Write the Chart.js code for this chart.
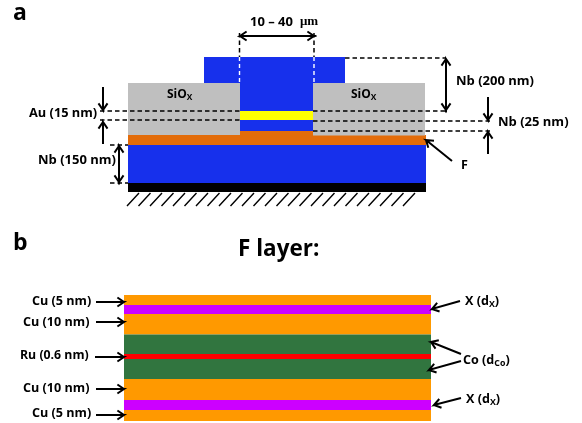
<!DOCTYPE html>
<html><head><meta charset="utf-8">
<style>html,body{margin:0;padding:0;background:#fff}canvas{display:block}</style>
<script src="https://cdn.jsdelivr.net/npm/chart.js@4"></script>
</head><body><canvas id="c" width="582" height="423"></canvas>
<script>
// Layers: [name, left, right, top, bottom] in diagram units
const layerNames  = ["baseNb","substrate","ferro","ferroMid","nbTopWide","nbMid","gold","oxideL","oxideR",
                     "cu1","x1","cu2","co1","ru","co2","cu3","x2","cu4"];
const layerLeft   = [128,128,128,240,204,240,240,128,313, 124,124,124,124,124,124,124,124,124];
const layerRight  = [426,426,426,314,345,314,314,240,425, 431,431,431,431,431,431,431,431,431];
const layerTop    = [145,183,135,131,57,57,111,83,83, 295,305,314,334.5,354,359,379,400,410];
const layerBottom = [183,192,145,136,83,131,120,135,135.5, 305,314,334.5,354,359,379,400,410,421];
const layerColors = ["#1730EC","#000000","#E36C0A","#E36C0A","#1730EC","#1730EC","#FFFF00","#BFBFBF","#BFBFBF",
                     "#FF9900","#CC00FF","#FF9900","#31753F","#FF0000","#31753F","#FF9900","#CC00FF","#FF9900"];

// Dashed guide lines: x1,y1,x2,y2
const dashX1 = [239.5,314,345,313,313,313,100,100,110,110];
const dashY1 = [33,33,58,111,121,131,111,120,145,183];
const dashX2 = [239.5,314,446,446,490,490,240,240,128,128];
const dashY2 = [57,57,58,111,121,131,111,120,145,183];

// White dashes where guides cross the blue electrode
const whiteX = [239.5,314];
const whiteY1 = [57,57];
const whiteY2 = [83,83];

// Arrows: tail -> tip; double-headed ones flagged
const arrowX1 = [240,446,103,103,119,488,488,452, 96,96,95,96,96, 460,461,461,461];
const arrowY1 = [36,59,87,144,146,97,154,161, 302,322,357,389,415, 301,354,361,398];
const arrowX2 = [314,446,103,103,119,488,488,426, 124,124,124,124,124, 432,431,429,434];
const arrowY2 = [36,110,110,122,182,120,132,140, 302,322,357,389,415, 309,342,370,405];
const arrowBoth = [1,1,0,0,1,0,0,0, 0,0,0,0,0, 0,0,0,0];

// Ground hatching below the substrate
const hatchBottomX = [127,138.5,150,161.5,173,184.5,196,207.5,219,230.5,242,253.5,265,276.5,288,299.5,311,322.5,334,345.5,357,368.5,380,391.5,403];
const hatchTopDX = 12;
const hatchTopY = 193, hatchBottomY = 206;

// Text labels
const labelText = ["a","b","F layer:","10 – 40","μm","SiO_X","SiO_X","Au (15 nm)","Nb (150 nm)","Nb (200 nm)","Nb (25 nm)","F",
                   "Cu (5 nm)","Cu (10 nm)","Ru (0.6 nm)","Cu (10 nm)","Cu (5 nm)","X (d_X)","Co (d_Co)","X (d_X)"];
const labelX    = [13,13,238,250,300,167,351,29,38,456,498,461, 32,23,20,23,32,465,463,466];
const labelY    = [13,243,250,22,22,95,95,113,160,81,122,165, 301,322,355,388,413,301,360,399];
const labelSize = [23,23,22.5,13,13,12,12,12.8,13,13,13,12.5, 12.6,12.6,12.3,12.6,12.6,12.6,12.6,12.6];
const labelFont = ["Open Sans","Open Sans","Open Sans","Open Sans","Liberation Serif","Open Sans","Open Sans","Open Sans","Open Sans","Open Sans","Open Sans","Open Sans",
                   "Open Sans","Open Sans","Open Sans","Open Sans","Open Sans","Open Sans","Open Sans","Open Sans"];

const datasets = [];
function line(data, color, width, dash){
  datasets.push({data, showLine:true, borderColor:color, borderWidth:width, borderDash:dash||[],
    pointRadius:0, pointHoverRadius:0, tension:0, fill:false, spanGaps:false, clip:false,
    borderCapStyle:'butt', borderJoinStyle:'miter'});
}
layerNames.forEach((n,i)=>{
  const l=layerLeft[i],r=layerRight[i],t=layerTop[i],b=layerBottom[i];
  datasets.push({label:n,data:[{x:l,y:t},{x:r,y:t},{x:r,y:b},{x:l,y:b},{x:l,y:t}],showLine:true,
    borderWidth:0,backgroundColor:layerColors[i],borderColor:layerColors[i],fill:'shape',pointRadius:0,tension:0,clip:false});
});
const hatch=[];
hatchBottomX.forEach(x=>{hatch.push({x:x,y:hatchBottomY},{x:x+hatchTopDX,y:hatchTopY},{x:NaN,y:NaN});});
line(hatch,"#000",1.4);
whiteX.forEach((x,i)=>line([{x,y:whiteY1[i]},{x,y:whiteY2[i]}],"#fff",1.4,[4,3]));
dashX1.forEach((x,i)=>{
  line([{x,y:dashY1[i]},{x:dashX2[i],y:dashY2[i]}],"#000",1.5,[4.5,3]);
});
function head(x1,y1,x2,y2,s){
  const a=Math.atan2(y2-y1,x2-x1),d=0.6;
  return [{x:x2-s*Math.cos(a-d),y:y2-s*Math.sin(a-d)},{x:x2,y:y2},{x:x2-s*Math.cos(a+d),y:y2-s*Math.sin(a+d)}];
}
arrowX1.forEach((x,i)=>{
  const y=arrowY1[i],X=arrowX2[i],Y=arrowY2[i];
  const tip={x:X,y:Y},tail={x,y};
  const pts=[tail,tip,...head(x,y,X,Y,8),tip];
  if(arrowBoth[i]) pts.push(tail,...head(X,Y,x,y,8),tail);
  line(pts,"#000",2);
});
const textPlugin={id:'texts',afterDatasetsDraw(ch){
  const c=ch.ctx,sx=ch.scales.x,sy=ch.scales.y;
  c.save();c.fillStyle='#000';c.textBaseline='middle';c.textAlign='left';
  labelText.forEach((t,i)=>{
    let px=sx.getPixelForValue(labelX[i]);const py=sy.getPixelForValue(labelY[i]);
    const size=labelSize[i],fam='"'+labelFont[i]+'"';
    t.split(/(_[A-Za-z]+)/).forEach(p=>{
      if(!p)return;
      const sub=p[0]==='_';const s=sub?p.slice(1):p;
      c.font=`bold ${sub?size*0.7:size}px ${fam}`;
      c.fillText(s,px,py+(sub?3:0));
      px+=c.measureText(s).width;
    });
  });
  c.restore();
}};
new Chart(document.getElementById('c'),{
  type:'scatter',
  data:{datasets:datasets.map((d,i)=>({...d,order:datasets.length-i}))},
  options:{responsive:false,animation:false,devicePixelRatio:1,
    layout:{padding:0},
    plugins:{legend:{display:false},tooltip:{enabled:false},title:{display:false}},
    scales:{x:{type:'linear',display:false,min:0,max:582},y:{type:'linear',display:false,min:0,max:423,reverse:true}}
  },
  plugins:[textPlugin]
});
</script></body></html>
